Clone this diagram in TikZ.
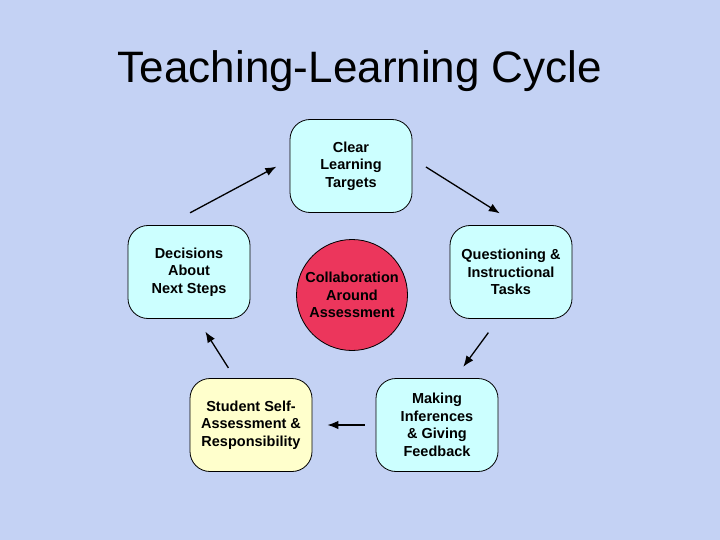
\documentclass[tikz,border=0pt]{standalone}
\usepackage{fontspec}
\setmainfont{Liberation Sans}
\usetikzlibrary{positioning,arrows.meta}
\definecolor{slidebg}{RGB}{196,210,244}
\definecolor{stepcyan}{RGB}{204,255,255}
\definecolor{stepyellow}{RGB}{255,255,204}
\definecolor{hubred}{RGB}{236,54,92}
\begin{document}
\begin{tikzpicture}[x=1pt,y=-1pt]
                    \tikzstyle{every node}=[align=center,inner sep=0]
                    \tikzstyle{stepbox}=[draw=black,line width=0.8,rounded corners=20,fill=stepcyan,minimum width=122,minimum height=93,font=\bfseries\fontsize{14.5}{17.5}\selectfont]
                    \tikzstyle{hub}=[draw=black,line width=0.8,circle,fill=hubred,minimum size=111,font=\bfseries\fontsize{14.5}{17.5}\selectfont]
                    \tikzstyle{arr}=[-{Latex[length=11,width=8.5]},line width=1.3]
                    {
                        \fill[slidebg] (0,0) rectangle (720,540);
                        \useasboundingbox (0,0) rectangle (720,540);

                        \node[font=\fontsize{44}{50}\selectfont] (title) at (360,71) {Teaching-Learning Cycle};

                        \node[stepbox] (targets) at (351,166) {Clear\\Learning\\Targets};
                        \node[stepbox] (questions) at (511,272) {Questioning \&\\Instructional\\Tasks};
                        \node[stepbox] (infer) at (437,425) {Making\\Inferences\\\& Giving\\Feedback};
                        \node[stepbox,fill=stepyellow] (self) at (251,425) {Student Self-\\Assessment \&\\Responsibility};
                        \node[stepbox] (decide) at (189,272) {Decisions\\About\\Next Steps};
                        \node[hub] (collab) at (352,295) {Collaboration\\Around\\Assessment};

                        \draw[arr,shorten <=26,shorten >=15] (decide.115) -- (targets.174);
                        \draw[arr,shorten <=16,shorten >=22] (targets.7.5) -- (questions.81.5);
                        \draw[arr,shorten <=17,shorten >=14] (questions.-105.5) -- (infer.69);
                        \draw[arr,shorten <=11,shorten >=15] (infer.west) -- (self.east);
                        \draw[arr,shorten <=12,shorten >=15] (self.109.5) -- (decide.-80.7);
                    }
\end{tikzpicture}
\end{document}
